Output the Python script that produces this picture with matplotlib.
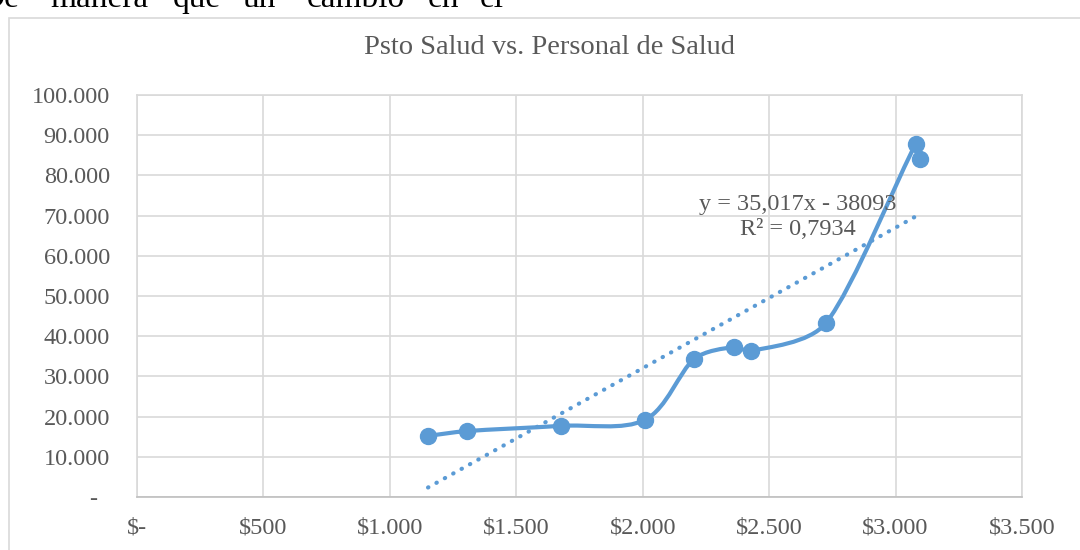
import numpy as np
import matplotlib
matplotlib.use("Agg")
from matplotlib import pyplot as plt
from matplotlib.path import Path
from matplotlib.patches import PathPatch, Rectangle
from matplotlib.ticker import FuncFormatter
import matplotlib.transforms as mtransforms

plt.rcParams['font.family'] = ['Liberation Serif', 'DejaVu Serif']

# datos
psto_salud = [1151, 1305, 1677, 2009, 2203, 2361, 2428, 2725, 3080, 3096]
personal = [15200, 16400, 17700, 19200, 34300, 37300, 36300, 43300, 87800, 84100]
x_ticks = [0, 500, 1000, 1500, 2000, 2500, 3000, 3500]
x_labels = ['$-', '$500', '$1.000', '$1.500', '$2.000', '$2.500', '$3.000', '$3.500']
y_ticks = [0, 10000, 20000, 30000, 40000, 50000, 60000, 70000, 80000, 90000, 100000]
palabras = ['De', 'manera', 'que', 'un', 'cambio', 'en', 'el']
pos_palabras = [-20, 50, 173, 243, 307, 428, 480]

azul = '#5B9BD5'
gris_txt = '#595959'
gris_grid = '#D9D9D9'

fig = plt.figure(figsize=(10.8, 5.5), dpi=100)

# texto del documento (cortado arriba) y borde del grafico
for w, px in zip(palabras, pos_palabras):
    fig.text(px / 1080, 1 - 7 / 550, w, fontsize=24, color='black',
             va='baseline', ha='left')
fig.patches.append(Rectangle((9 / 1080, -0.1), 1.2, 1.1 - 18 / 550,
                             transform=fig.transFigure, fill=False,
                             edgecolor=gris_grid, lw=1.2))

ax = fig.add_axes([137 / 1080, 1 - 497 / 550, (1022 - 137) / 1080, (497 - 95) / 550])
ax.set_xlim(0, 3500)
ax.set_ylim(0, 100000)
ax.set_xticks(x_ticks)
ax.set_xticklabels(x_labels)
ax.set_yticks(y_ticks)
ax.yaxis.set_major_formatter(FuncFormatter(
    lambda v, p: '-' if v == 0 else f'{int(v):,}'.replace(',', '.')))
ax.grid(True, color=gris_grid, lw=1.2)
ax.set_axisbelow(True)
for s in ax.spines.values():
    s.set_color(gris_grid)
    s.set_linewidth(1.2)
ax.spines['bottom'].set_color('#BFBFBF')
ax.tick_params(length=0, labelsize=17.5, colors=gris_txt)
ax.tick_params(axis='y', pad=19.5)
ax.tick_params(axis='x', pad=15)

# linea suavizada (bezier tipo excel), calculada en pixeles
xs = np.array(psto_salud, float)
ys = np.array(personal, float)
pts = ax.transData.transform(np.column_stack([xs, ys]))
ext = np.vstack([pts[0], pts, pts[-1]])
verts = [pts[0]]
codes = [Path.MOVETO]
for i in range(len(pts) - 1):
    p0, p1, p2, p3 = ext[i], ext[i + 1], ext[i + 2], ext[i + 3]
    seg = np.linalg.norm(p2 - p1)
    a1 = (p2 - p0) / 6
    a2 = (p3 - p1) / 6
    for a in (a1, a2):
        n = np.linalg.norm(a)
        if n > seg / 3:
            a *= (seg / 3) / n
    verts += [p1 + a1, p2 - a2, p2]
    codes += [Path.CURVE4] * 3
verts = ax.transData.inverted().transform(np.array(verts))
ax.add_patch(PathPatch(Path(verts, codes), fill=False, edgecolor=azul,
                       lw=3, capstyle='round', joinstyle='round', zorder=3))
ax.plot(xs, ys, 'o', color=azul, markersize=11.5, zorder=4)

# linea de tendencia lineal
m, b = np.polyfit(xs, ys, 1)
tx = np.array([xs.min(), xs.max()])
ax.plot(tx, m * tx + b, color=azul, lw=3, linestyle=(0, (0.1, 2.2)),
        dash_capstyle='round', zorder=2)
eq = 'y = 35,017x - 38093\nR² = 0,7934'
ax.text((798 - 137) / 885, (497 - 217) / 402, eq, transform=ax.transAxes,
        ha='center', va='center', fontsize=17.5, color=gris_txt, linespacing=1.2)

# "-" del cero desplazado a la izquierda
for lab in ax.get_yticklabels():
    if lab.get_text() == '-':
        off = mtransforms.ScaledTranslation(-13 / 100, 0, fig.dpi_scale_trans)
        lab.set_transform(lab.get_transform() + off)

fig.text(550 / 1080, 1 - 47 / 550, 'Psto Salud vs. Personal de Salud',
         ha='center', va='center', fontsize=20.5, color=gris_txt)

fig.savefig('out.png', dpi=100)
